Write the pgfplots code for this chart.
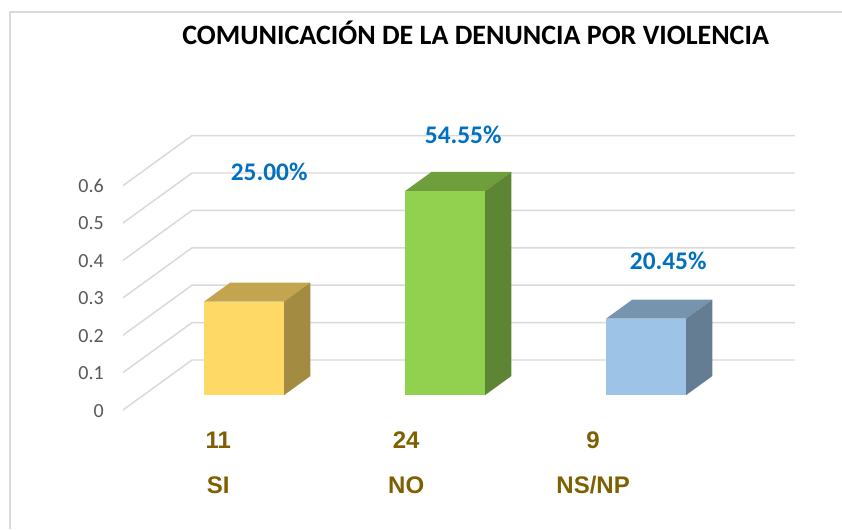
\documentclass[border=0pt]{standalone}
\usepackage{pgfplots}
\pgfplotsset{compat=1.18}
\usepackage{fontspec}
\setmainfont{Carlito}
\newfontfamily\catfont{Liberation Sans}
\definecolor{siF}{HTML}{FFD966}
\definecolor{noF}{HTML}{92D050}
\definecolor{nsF}{HTML}{9DC3E6}
\definecolor{gridc}{HTML}{D9D9D9}
\definecolor{tickc}{HTML}{595959}
\definecolor{lblc}{HTML}{0070C0}
\definecolor{catc}{HTML}{7F6000}
\pgfdeclarelayer{background}
\pgfsetlayers{background,main}
% cuboid mark: drawn at the front-top centre of a bar; height from the bar value
\newcommand\declarecuboid[2]{%
 \pgfdeclareplotmark{#1}{%
  \pgfmathsetmacro\hh{\barval*280.5}%
  \pgfpathmoveto{\pgfpoint{-30pt}{0pt}}%
  \pgfpathlineto{\pgfpoint{30pt}{0pt}}%
  \pgfpathlineto{\pgfpoint{30pt}{-\hh pt}}%
  \pgfpathlineto{\pgfpoint{-30pt}{-\hh pt}}%
  \pgfpathclose
  \pgfsetfillcolor{#2}\pgfusepath{fill}%
  \pgfpathmoveto{\pgfpoint{-30pt}{0pt}}%
  \pgfpathlineto{\pgfpoint{30pt}{0pt}}%
  \pgfpathlineto{\pgfpoint{49.665pt}{14.25pt}}%
  \pgfpathlineto{\pgfpoint{-10.335pt}{14.25pt}}%
  \pgfpathclose
  \pgfsetfillcolor{#2!76!black}\pgfusepath{fill}%
  \pgfpathmoveto{\pgfpoint{30pt}{0pt}}%
  \pgfpathlineto{\pgfpoint{49.665pt}{14.25pt}}%
  \pgfpathlineto{\pgfpoint{49.665pt}{14.25pt-\hh pt}}%
  \pgfpathlineto{\pgfpoint{30pt}{-\hh pt}}%
  \pgfpathclose
  \pgfsetfillcolor{#2!64!black}\pgfusepath{fill}%
 }}
\declarecuboid{cubeSI}{siF}
\declarecuboid{cubeNO}{noF}
\declarecuboid{cubeNS}{nsF}
\pgfplotsset{
  bar3d/.style={only marks, mark=#1, visualization depends on={rawz \as \barval},
    nodes near coords style={anchor=base, text=lblc, inner sep=0pt,
      font=\bfseries\fontsize{19}{22}\selectfont}},
}
\begin{document}
\begin{tikzpicture}
\begin{axis}[
  x={(150.75pt,0pt)}, y={(51.75pt,37.5pt)}, z={(0pt,280.5pt)},
  xmin=-0.5, xmax=2.5, ymin=0, ymax=1, zmin=0, zmax=0.7,
  hide axis, clip=false,
]
\coordinate (O) at (axis cs:-0.5,0,0);
% gridlines (front diagonal + back wall)
\pgfplotsinvokeforeach{0,0.1,0.2,0.3,0.4,0.5,0.6}{
  \addplot3[gridc, line width=1.1pt, mark=none] coordinates {(-0.5,0,#1) (-0.5,1,#1) (2.5,1,#1)};
}
% tick labels
\addplot3[only marks, mark=none, point meta=explicit symbolic, nodes near coords,
  nodes near coords style={anchor=base east, xshift=-14.25pt, yshift=-5.25pt, inner sep=0pt,
    text=tickc, font=\fontsize{15}{18}\selectfont}]
  coordinates {(-0.5,0,0) [0] (-0.5,0,0.1) [0.1] (-0.5,0,0.2) [0.2] (-0.5,0,0.3) [0.3]
               (-0.5,0,0.4) [0.4] (-0.5,0,0.5) [0.5] (-0.5,0,0.6) [0.6]};
% bars (value = share)
\addplot3[bar3d=cubeSI, nodes near coords={25.00\%},
  nodes near coords style={xshift=18.75pt, yshift=91.1pt}] coordinates {(0,0.3,0.25)};
\addplot3[bar3d=cubeNO, nodes near coords={54.55\%},
  nodes near coords style={xshift=13.5pt, yshift=35.25pt}] coordinates {(1,0.3,0.5455)};
\addplot3[bar3d=cubeNS, nodes near coords={20.45\%},
  nodes near coords style={xshift=16.5pt, yshift=36.4pt}] coordinates {(2,0.3,0.2045)};
% category labels: counts and names
\addplot3[only marks, mark=none, point meta=explicit symbolic, nodes near coords,
  nodes near coords style={anchor=base, yshift=-28.7pt, inner sep=0pt, text=catc,
    font=\catfont\bfseries\fontsize{18}{21}\selectfont}]
  coordinates {(-0.026,0,0) [11] (0.909,0,0) [24] (1.839,0,0) [9]};
\addplot3[only marks, mark=none, point meta=explicit symbolic, nodes near coords,
  nodes near coords style={anchor=base, yshift=-62.5pt, inner sep=0pt, text=catc,
    font=\catfont\bfseries\fontsize{18}{21}\selectfont}]
  coordinates {(-0.026,0,0) [SI] (0.909,0,0) [NO] (1.839,0,0) [NS/NP]};
\end{axis}
\pgfresetboundingbox
\useasboundingbox ([shift={(-92.25pt,-89.25pt)}]O) rectangle ([shift={(539.25pt,307.5pt)}]O);
\begin{pgfonlayer}{background}
\fill[white] ([shift={(-92.25pt,-89.25pt)}]O) rectangle ([shift={(539.25pt,307.5pt)}]O);
\end{pgfonlayer}
\draw[gridc, line width=0.9pt] ([shift={(-84.75pt,-89.25pt)}]O) -- ([shift={(-84.75pt,298.5pt)}]O) -- ([shift={(539.25pt,298.5pt)}]O);
\node[anchor=base, inner sep=0pt, font=\bfseries\fontsize{21}{25}\selectfont]
  at ([shift={(264.5pt,274.3pt)}]O) {COMUNICACIÓN DE LA DENUNCIA POR VIOLENCIA};
\end{tikzpicture}
\end{document}
